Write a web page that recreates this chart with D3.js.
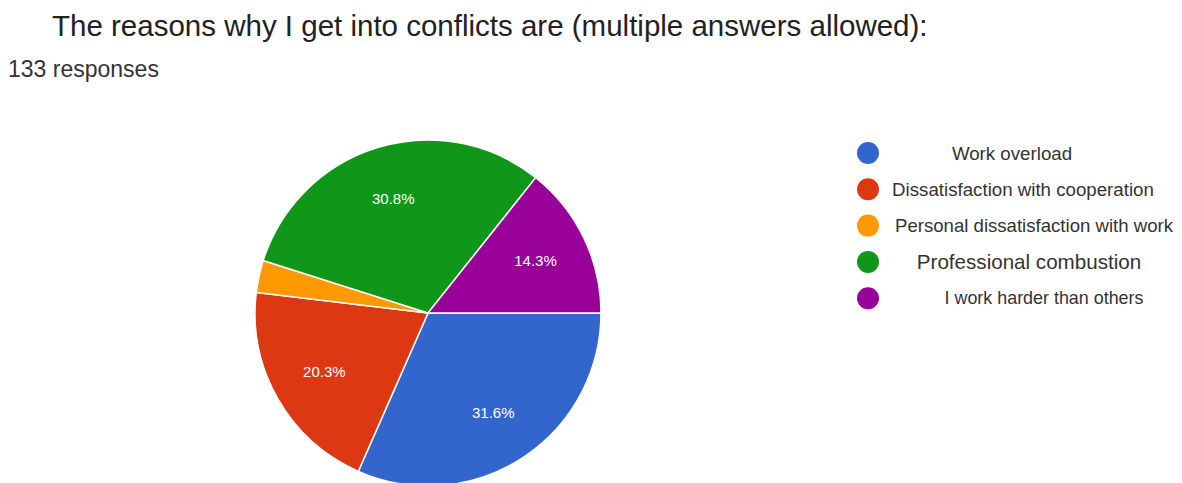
<!DOCTYPE html>
<html>
<head>
<meta charset="utf-8">
<script src="https://cdn.jsdelivr.net/npm/d3@7"></script>
<style>
  body { margin: 0; background: #fff; }
  text { font-family: "Liberation Sans", Arial, sans-serif; }
</style>
</head>
<body>
<svg width="1182" height="483"></svg>
<script>
// data
const categories = ['Work overload', 'Dissatisfaction with cooperation', 'Personal dissatisfaction with work', 'Professional combustion', 'I work harder than others'];
const percents = [31.6, 20.3, 3.0, 30.8, 14.3];
const colors = ['#3366cc', '#dc3912', '#ff9900', '#109618', '#990099'];

// legend text placement (the source legend is oddly centred)
const legendCenters = [1012, 1023, 1034, 1029, 1044];
const legendSizes = [18.7, 18.7, 18.6, 20.6, 17.9];

const svg = d3.select('svg');

svg.append('text')
  .attr('x', 52).attr('y', 36)
  .attr('font-size', 29.5).attr('fill', '#222')
  .text('The reasons why I get into conflicts are (multiple answers allowed):');

svg.append('text')
  .attr('x', 8).attr('y', 77)
  .attr('font-size', 23).attr('fill', '#333')
  .text('133 responses');

// pie
const cx = 428, cy = 313, r = 173;
const pie = d3.pie().sort(null)
  .startAngle(Math.PI / 2).endAngle(Math.PI / 2 + 2 * Math.PI);
const arcs = pie(percents);
const arc = d3.arc().innerRadius(0).outerRadius(r);
const labelArc = d3.arc().innerRadius(r * 0.69).outerRadius(r * 0.69);

const g = svg.append('g').attr('transform', `translate(${cx},${cy})`);
g.selectAll('path')
  .data(arcs)
  .enter()
  .append('path')
  .attr('d', arc)
  .attr('fill', (d, i) => colors[i])
  .attr('stroke', '#fff')
  .attr('stroke-width', 1.5);

g.selectAll('text.pct')
  .data(arcs.filter(d => d.data >= 5))
  .enter()
  .append('text')
  .attr('class', 'pct')
  .attr('transform', d => `translate(${labelArc.centroid(d)})`)
  .attr('text-anchor', 'middle')
  .attr('dy', '0.35em')
  .attr('font-size', 15)
  .attr('fill', '#fff')
  .text(d => d.data.toFixed(1) + '%');

// legend
const leg = svg.append('g');
const rows = leg.selectAll('g')
  .data(categories)
  .enter()
  .append('g')
  .attr('transform', (d, i) => `translate(0,${153 + i * 36.3})`);

rows.append('circle')
  .attr('cx', 868).attr('cy', 0).attr('r', 11)
  .attr('fill', (d, i) => colors[i]);

rows.append('text')
  .attr('x', (d, i) => legendCenters[i])
  .attr('dy', '0.35em')
  .attr('text-anchor', 'middle')
  .attr('font-size', (d, i) => legendSizes[i])
  .attr('fill', '#333')
  .text(d => d);
</script>
</body>
</html>
